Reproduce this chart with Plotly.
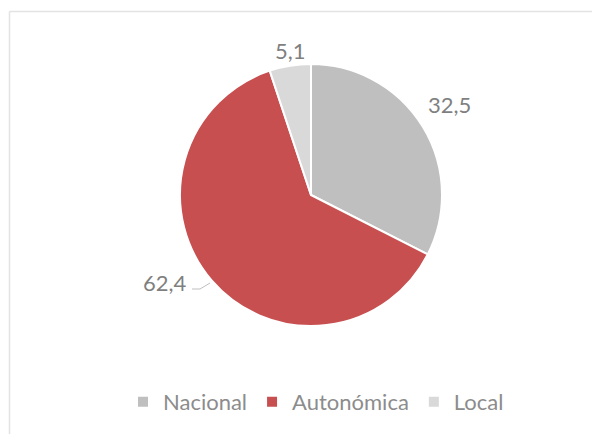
import plotly.graph_objects as go

categories = ["Nacional", "Autonómica", "Local"]
values = [32.5, 62.4, 5.1]
colors = ["#BFBFBF", "#C84F50", "#D9D9D9"]

W, H = 600, 434
OFF = 8  # page body margin offset

def px(x):
    return (x - OFF) / W

def py(y):
    return 1 - (y - OFF) / H

cx, cy, r = 311, 195, 131

fig = go.Figure()
fig.add_trace(go.Pie(
    labels=categories,
    values=values,
    sort=False,
    direction="clockwise",
    rotation=0,
    marker=dict(colors=colors, line=dict(color="white", width=2)),
    textinfo="none",
    hoverinfo="label+value",
    domain=dict(x=[px(cx - r), px(cx + r)], y=[py(cy + r), py(cy - r)]),
    showlegend=True,
))

label_pos = [(449, 105), (165, 282), (290, 51)]
annotations = []
for v, (x, y) in zip(values, label_pos):
    annotations.append(dict(
        text=f"{v:.1f}".replace(".", ","),
        x=px(x), y=py(y), xref="paper", yref="paper",
        showarrow=False, xanchor="center", yanchor="middle",
        font=dict(family="Lato, sans-serif", size=22, color="#7F7F7F"),
    ))

shapes = [
    dict(type="line", xref="paper", yref="paper",
         x0=px(9.5), x1=px(9.5), y0=-0.05, y1=py(11.5),
         line=dict(color="#E3E3E3", width=1.5)),
    dict(type="line", xref="paper", yref="paper",
         x0=px(9.5), x1=1.05, y0=py(11.5), y1=py(11.5),
         line=dict(color="#E3E3E3", width=1.5)),
    dict(type="path", xref="paper", yref="paper",
         path=f"M {px(192)} {py(289)} L {px(200)} {py(289)} L {px(210)} {py(283)}",
         line=dict(color="#BFBFBF", width=1)),
]

fig.update_layout(
    width=W, height=H,
    margin=dict(l=0, r=0, t=0, b=0),
    paper_bgcolor="white",
    plot_bgcolor="white",
    separators=",.",
    annotations=annotations,
    shapes=shapes,
    legend=dict(
        orientation="h",
        x=px(316), xanchor="center",
        y=py(402), yanchor="middle",
        font=dict(family="Lato, sans-serif", size=22, color="#8C8C8C"),
        itemwidth=30,
        tracegroupgap=0,
    ),
)

fig.write_html("out.html")
